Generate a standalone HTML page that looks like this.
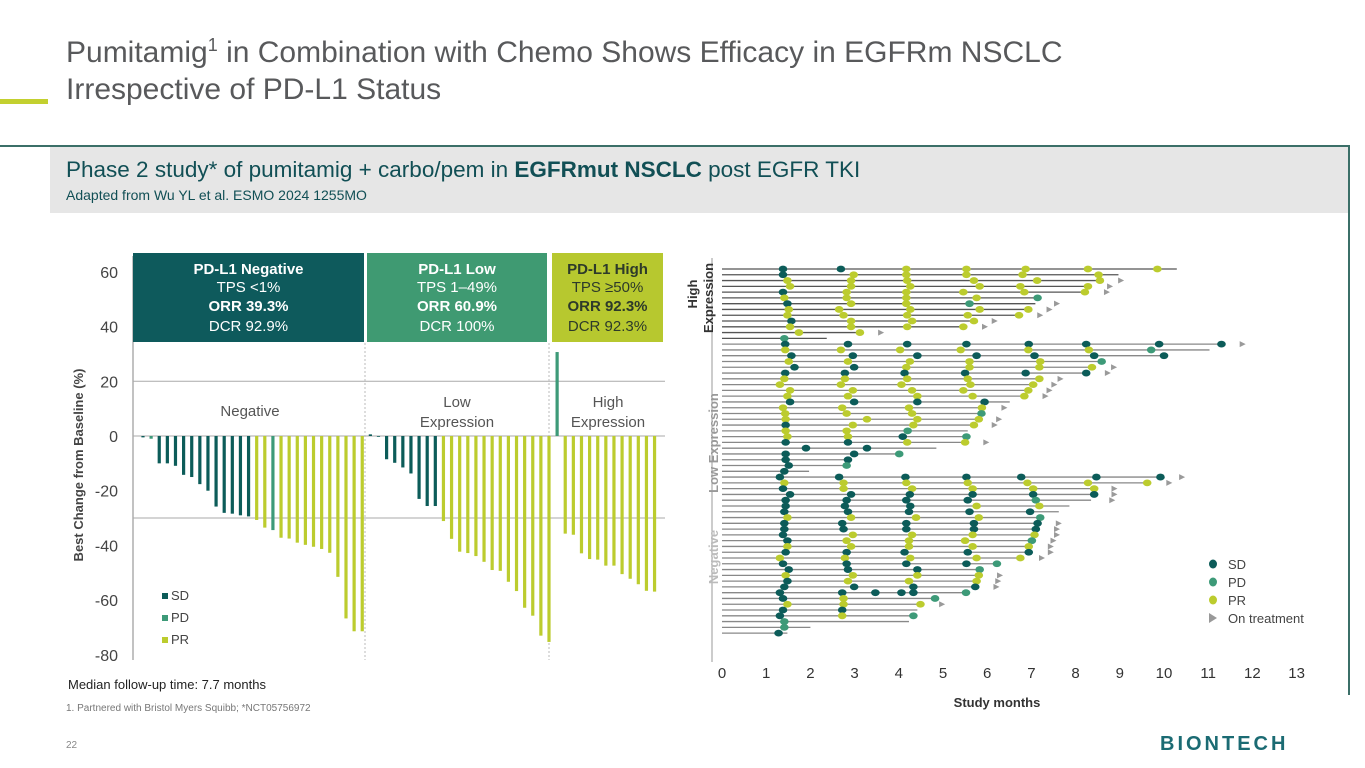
<!DOCTYPE html>
<html><head><meta charset="utf-8">
<style>
body{margin:0;width:1365px;height:768px;overflow:hidden;background:#fff;font-family:"Liberation Sans",Arial,sans-serif;position:relative}
.abs{position:absolute}
</style></head>
<body>
<div class="abs" style="left:66px;top:34px;font-size:30px;line-height:37px;color:#58595b">Pumitamig<sup style="font-size:18px;line-height:0">1</sup> in Combination with Chemo Shows Efficacy in EGFRm NSCLC<br>Irrespective of PD-L1 Status</div>
<div class="abs" style="left:0;top:99px;width:48px;height:5px;background:#c3d02f"></div>
<div class="abs" style="left:0;top:145px;width:1350px;height:2px;background:#3b6f68"></div>
<div class="abs" style="left:1348px;top:145px;width:1.5px;height:550px;background:#3b6f68"></div>
<div class="abs" style="left:50px;top:147px;width:1298px;height:66px;background:#e6e6e6"></div>
<div class="abs" style="left:66px;top:157px;font-size:22.5px;color:#114f55">Phase 2 study* of pumitamig + carbo/pem in <b>EGFRmut NSCLC</b> post EGFR TKI</div>
<div class="abs" style="left:66px;top:187px;font-size:14px;color:#114f55">Adapted from Wu YL et al. ESMO 2024 1255MO</div>

<svg class="abs" style="left:0;top:0" width="1365" height="768" id="svg">
<g id="wf"></g>
<g id="sw"></g>
</svg>

<div class="abs" style="left:68px;top:677px;font-size:13px;color:#222">Median follow-up time: 7.7 months</div>
<div class="abs" style="left:66px;top:703px;font-size:10px;color:#777">1. Partnered with Bristol Myers Squibb; *NCT05756972</div>
<div class="abs" style="left:66px;top:740px;font-size:10px;color:#888">22</div>
<div class="abs" style="left:1160px;top:733px;font-size:20px;letter-spacing:3px;color:#1b6b73;font-weight:bold">BIONTECH</div>

<script>
// ---------- Waterfall data ----------
const wfCategories=["SD","PD","PR"];
const negTypes=["SD","PD","SD","SD","SD","SD","SD","SD","SD","SD","SD","SD","SD","SD","PR","PR","PD","PR","PR","PR","PR","PR","PR","PR","PR","PR","PR","PR"];
const negValues=[-0.5,-1,-10,-10,-10.9,-14.2,-15,-17.6,-20,-25.8,-28.1,-28.4,-29,-29.4,-30.7,-33.5,-34.4,-37.2,-37.5,-39,-39.8,-40.5,-41.3,-42.7,-51.5,-66.7,-71.4,-71.4];
const lowTypes=["SD","SD","SD","SD","SD","SD","SD","SD","SD","PR","PR","PR","PR","PR","PR","PR","PR","PR","PR","PR","PR","PR","PR"];
const lowValues=[0.6,0,-8.5,-9.8,-11.5,-13.7,-23,-25.6,-25.6,-31.1,-37.6,-42.3,-42.8,-43.9,-46,-49,-49.3,-53.3,-56.7,-62.8,-65.7,-73,-75.3];
const highTypes=["PD","PR","PR","PR","PR","PR","PR","PR","PR","PR","PR","PR","PR"];
const highValues=[30.7,-35.7,-36.1,-42.9,-45,-45.2,-47.4,-47.4,-50.5,-52.2,-54.2,-56.6,-56.9];
const yTicks=[60,40,20,0,-20,-40,-60,-80];
const colors={SD:"#0c5c59",PD:"#3d9a78",PR:"#bccc2e"};
const NS="http://www.w3.org/2000/svg";
function mk(tag,attrs,parent,txt){const e=document.createElementNS(NS,tag);for(const k in attrs)e.setAttribute(k,attrs[k]);if(txt!==undefined)e.textContent=txt;parent.appendChild(e);return e;}
const wf=document.getElementById('wf');
const yS=v=>436-(v)*2.735;
const xS=i=>143+i*8.12;
let ax=mk('line',{x1:133,x2:133,y1:256,y2:660,stroke:'#999','stroke-width':1.2},wf);

yTicks.forEach(t=>{const tl=mk('text',{x:118,y:yS(t)+6,'text-anchor':'end','font-size':16,fill:'#444'},wf,String(t));
});
[[20],[-30]].forEach(([v])=>{const g=mk('line',{x1:133,x2:665,y1:yS(v),y2:yS(v),stroke:'#aaa','stroke-width':1},wf);
});
const zl=mk('line',{x1:133,x2:665,y1:yS(0),y2:yS(0),stroke:'#aaa','stroke-width':1},wf);

[365,549].forEach(x=>{const d=mk('line',{x1:x,x2:x,y1:343,y2:660,stroke:'#bbb','stroke-width':1,'stroke-dasharray':'2,2'},wf);
});
const yt=mk('text',{transform:'translate(83,465) rotate(-90)','text-anchor':'middle','font-size':13,'font-weight':'bold',fill:'#444'},wf,'Best Change from Baseline (%)');

const boxes=[[133,231,"#0e5a5c","#fff","PD-L1 Negative","TPS <1%","ORR 39.3%","DCR 92.9%"],[367,180,"#3f9a72","#fff","PD-L1 Low","TPS 1–49%","ORR 60.9%","DCR 100%"],[552,111,"#b7c82f","#2d3a2a","PD-L1 High","TPS ≥50%","ORR 92.3%","DCR 92.3%"]];
boxes.forEach(b=>{const r=mk('rect',{x:b[0],y:253,width:b[1],height:89,fill:b[2]},wf);

const cx=b[0]+b[1]/2;
[[b[4],274,'bold'],[b[5],292,'normal'],[b[6],311,'bold'],[b[7],331,'normal']].forEach(l=>{const t=mk('text',{x:cx,y:l[1],'text-anchor':'middle','font-size':15,'font-weight':l[2],fill:b[3]},wf,l[0]);
});});
[["Negative",250,[416]],["Low|Expression",457,[407,427]],["High|Expression",608,[407,427]]].forEach(g=>{g[0].split('|').forEach((s,i)=>{const t=mk('text',{x:g[1],y:g[2][i],'text-anchor':'middle','font-size':15,fill:'#555'},wf,s);
});});
function bars(vals,types,start){vals.forEach((v,i)=>{const y0=yS(0),y1=yS(v);const r=mk('rect',{x:xS(start+i)-1.6,y:Math.min(y0,y1),width:3.2,height:Math.max(Math.abs(y1-y0),0.8),fill:colors[types[i]]},wf);
});}
bars(negValues,negTypes,0);bars(lowValues,lowTypes,28);bars(highValues,highTypes,51);
wfCategories.forEach((c,i)=>{const r=mk('rect',{x:162,y:593+i*22,width:6,height:6,fill:colors[c]},wf);

const t=mk('text',{x:171,y:600+i*22,'font-size':13,fill:'#444'},wf,c);
});

// ---------- Swimmer data (months) ----------
const swEnds=[10.29,8.97,8.59,8.30,8.23,7.14,7.09,6.93,6.72,5.72,5.47,3.12,2.37,
11.30,11.03,10.00,8.59,8.37,8.24,7.18,7.04,6.93,6.84,6.51,5.88,5.87,5.81,5.70,5.56,5.53,5.50,4.85,4.01,2.85,2.85,1.97,
9.92,9.62,8.42,8.42,8.35,7.86,7.62,7.20,7.14,7.10,7.07,7.01,6.94,6.94,6.75,6.22,5.83,5.81,5.76,5.73,5.52,4.82,4.49,4.42,4.33,4.23,2.00,1.48];
const swOngoing=[null,null,9.03,8.78,8.71,null,7.58,7.41,7.20,6.17,5.95,3.60,null,
11.78,null,null,null,8.87,8.73,7.66,7.52,7.41,7.32,null,6.39,null,6.27,6.17,null,null,5.98,null,null,null,null,null,
10.41,10.12,8.88,8.88,8.83,null,null,null,7.62,7.58,7.58,7.50,7.44,7.44,7.24,null,null,6.29,6.25,6.21,null,null,4.98,null,null,null,null,null];
const swTimes=[[1.38,2.69,4.17,5.53,6.87,8.28,9.85],[1.38,2.98,4.17,5.53,6.80,8.52],[1.48,2.92,4.19,5.70,7.13,8.55],[1.54,2.92,4.26,5.83,6.75,8.28],[1.38,2.82,4.17,5.46,6.84,8.21],[1.41,2.82,4.17,5.76,7.14],[1.48,2.92,4.17,5.60],[1.51,2.65,4.26,5.83,6.93],[1.48,2.75,4.19,5.56,6.72],[1.57,2.92,4.30,5.70],[1.54,2.92,4.19,5.46],[1.74,3.12],[1.41],
[1.43,2.85,4.19,5.53,6.94,8.24,9.89,11.30],[1.43,2.69,4.03,5.40,6.93,8.30,9.71],[1.57,2.96,4.42,5.76,7.07,8.42,10.00],[1.51,2.85,4.25,5.60,7.20,8.59],[1.64,2.99,4.17,5.60,7.18,8.37],[1.43,2.78,4.13,5.50,6.87,8.24],[1.41,2.78,4.19,5.56,7.18],[1.31,2.69,4.06,5.62,7.04],[1.54,2.96,4.30,5.46,6.93],[1.48,2.85,4.42,5.67,6.84],[1.54,2.99,4.42,5.94],[1.38,2.72,4.23,5.88],[1.43,2.82,4.30,5.87],[1.44,3.28,4.42,5.81],[1.44,2.96,4.33,5.70],[1.44,2.82,4.20],[1.48,2.85,4.09,5.53],[1.44,2.85,4.19,5.50],[1.90,3.28],[1.44,2.99,4.01],[1.44,2.85],[1.51,2.82],[1.41],
[1.31,2.65,4.15,5.53,6.77,8.47,9.92],[1.41,2.75,4.17,5.56,6.91,8.28,9.62],[1.38,2.75,4.30,5.67,7.04,8.42],[1.54,2.92,4.25,5.67,7.04,8.42],[1.44,2.82,4.17,5.56,7.10],[1.44,2.78,4.26,5.76,7.18],[1.41,2.85,4.23,5.60,6.97],[1.48,2.92,4.39,5.81,7.20],[1.41,2.72,4.17,5.70,7.14],[1.41,2.75,4.17,5.70,7.10],[1.38,2.96,4.30,5.67,7.07],[1.48,2.82,4.23,5.50,7.01],[1.48,2.92,4.23,5.67,6.94],[1.44,2.82,4.13,5.56,6.94],[1.31,2.78,4.26,5.76,6.75],[1.38,2.82,4.17,5.53,6.22],[1.51,2.85,4.42,5.83],[1.44,2.96,4.42,5.81],[1.48,2.85,4.23,5.76],[1.41,2.99,4.33,5.73],[1.31,2.72,3.47,4.06,4.33,5.52],[1.38,2.75,4.82],[1.48,2.75,4.49],[1.38,2.72],[1.31,2.72,4.33],[1.41],[1.41],[1.28]];
const swTypes=["SSPPPPP","SPPPPP","PPPPPP","PPPPPP","SPPPPP","PPPPD","SPPD","PPPPP","PPPPP","SPPP","PPPP","PP","D",
"SSSSSSSS","PPPPPPD","SSSSSSS","PPPPPD","SSPPPP","SSSSSS","PPPPP","PPPPP","PPPPP","PPPPP","SSSS","PPPP","PPPD","PPPP","SPPP","PPD","PPSD","SSPP","SS","SSD","SS","SD","S",
"SSSSSSS","PPPPPPP","SPPPPP","SSSSSS","SSSSD","SSSPP","SSSSS","PPPPD","SSSSS","SSSSS","SPPPP","SPPPD","PPPPP","SSSSS","PPPPP","SSSSD","SSSD","PPPP","SPPP","SSSS","SSSSSD","SPD","PPP","SS","SPD","D","D","S"];
const monthTicks=[0,1,2,3,4,5,6,7,8,9,10,11,12,13];
const sw=document.getElementById('sw');
const mx=m=>722+m*44.2;
const ry=i=>269+i*5.78;
const tmap={S:"SD",P:"PR",D:"PD"};
const va=mk('line',{x1:712,x2:712,y1:258,y2:662,stroke:'#999','stroke-width':1},sw);

swEnds.forEach((e,i)=>{const l=mk('line',{x1:mx(0),x2:mx(e),y1:ry(i),y2:ry(i),stroke:i<13?'#555':'#888','stroke-width':1.3},sw);

if(swOngoing[i]!==null){const x=mx(swOngoing[i]),y=ry(i);const a=mk('polygon',{points:`${x-3},${y-3} ${x+3},${y} ${x-3},${y+3}`,fill:'#9a9a9a'},sw);
}
swTimes[i].forEach((t,j)=>{const ty=tmap[swTypes[i][j]]||"SD";const c=mk('ellipse',{cx:mx(t),cy:ry(i),rx:4.3,ry:3.4,fill:colors[ty]},sw);
});});
monthTicks.forEach(m=>{const t=mk('text',{x:mx(m),y:678,'text-anchor':'middle','font-size':15,fill:'#333'},sw,String(m));
});
const xt=mk('text',{x:997,y:707,'text-anchor':'middle','font-size':13,'font-weight':'bold',fill:'#333'},sw,'Study months');

[["High",294,'#333',697],["Expression",298,'#333',713],["Low Expression",443,'#999',718],["Negative",557,'#bbb',718]].forEach(g=>{const t=mk('text',{transform:`translate(${g[3]},${g[1]}) rotate(-90)`,'text-anchor':'middle','font-size':13,'font-weight':'bold',fill:g[2]},sw,g[0]);
});
["SD","PD","PR"].forEach((c,i)=>{const e=mk('ellipse',{cx:1213,cy:564+i*18,rx:4,ry:4.5,fill:colors[c]},sw);

const t=mk('text',{x:1228,y:569+i*18,'font-size':13,fill:'#444'},sw,c);
});
const la=mk('polygon',{points:'1209,613 1217,618 1209,623',fill:'#999'},sw);

const lt=mk('text',{x:1228,y:623,'font-size':13,fill:'#444'},sw,'On treatment');

</script>
</body></html>
